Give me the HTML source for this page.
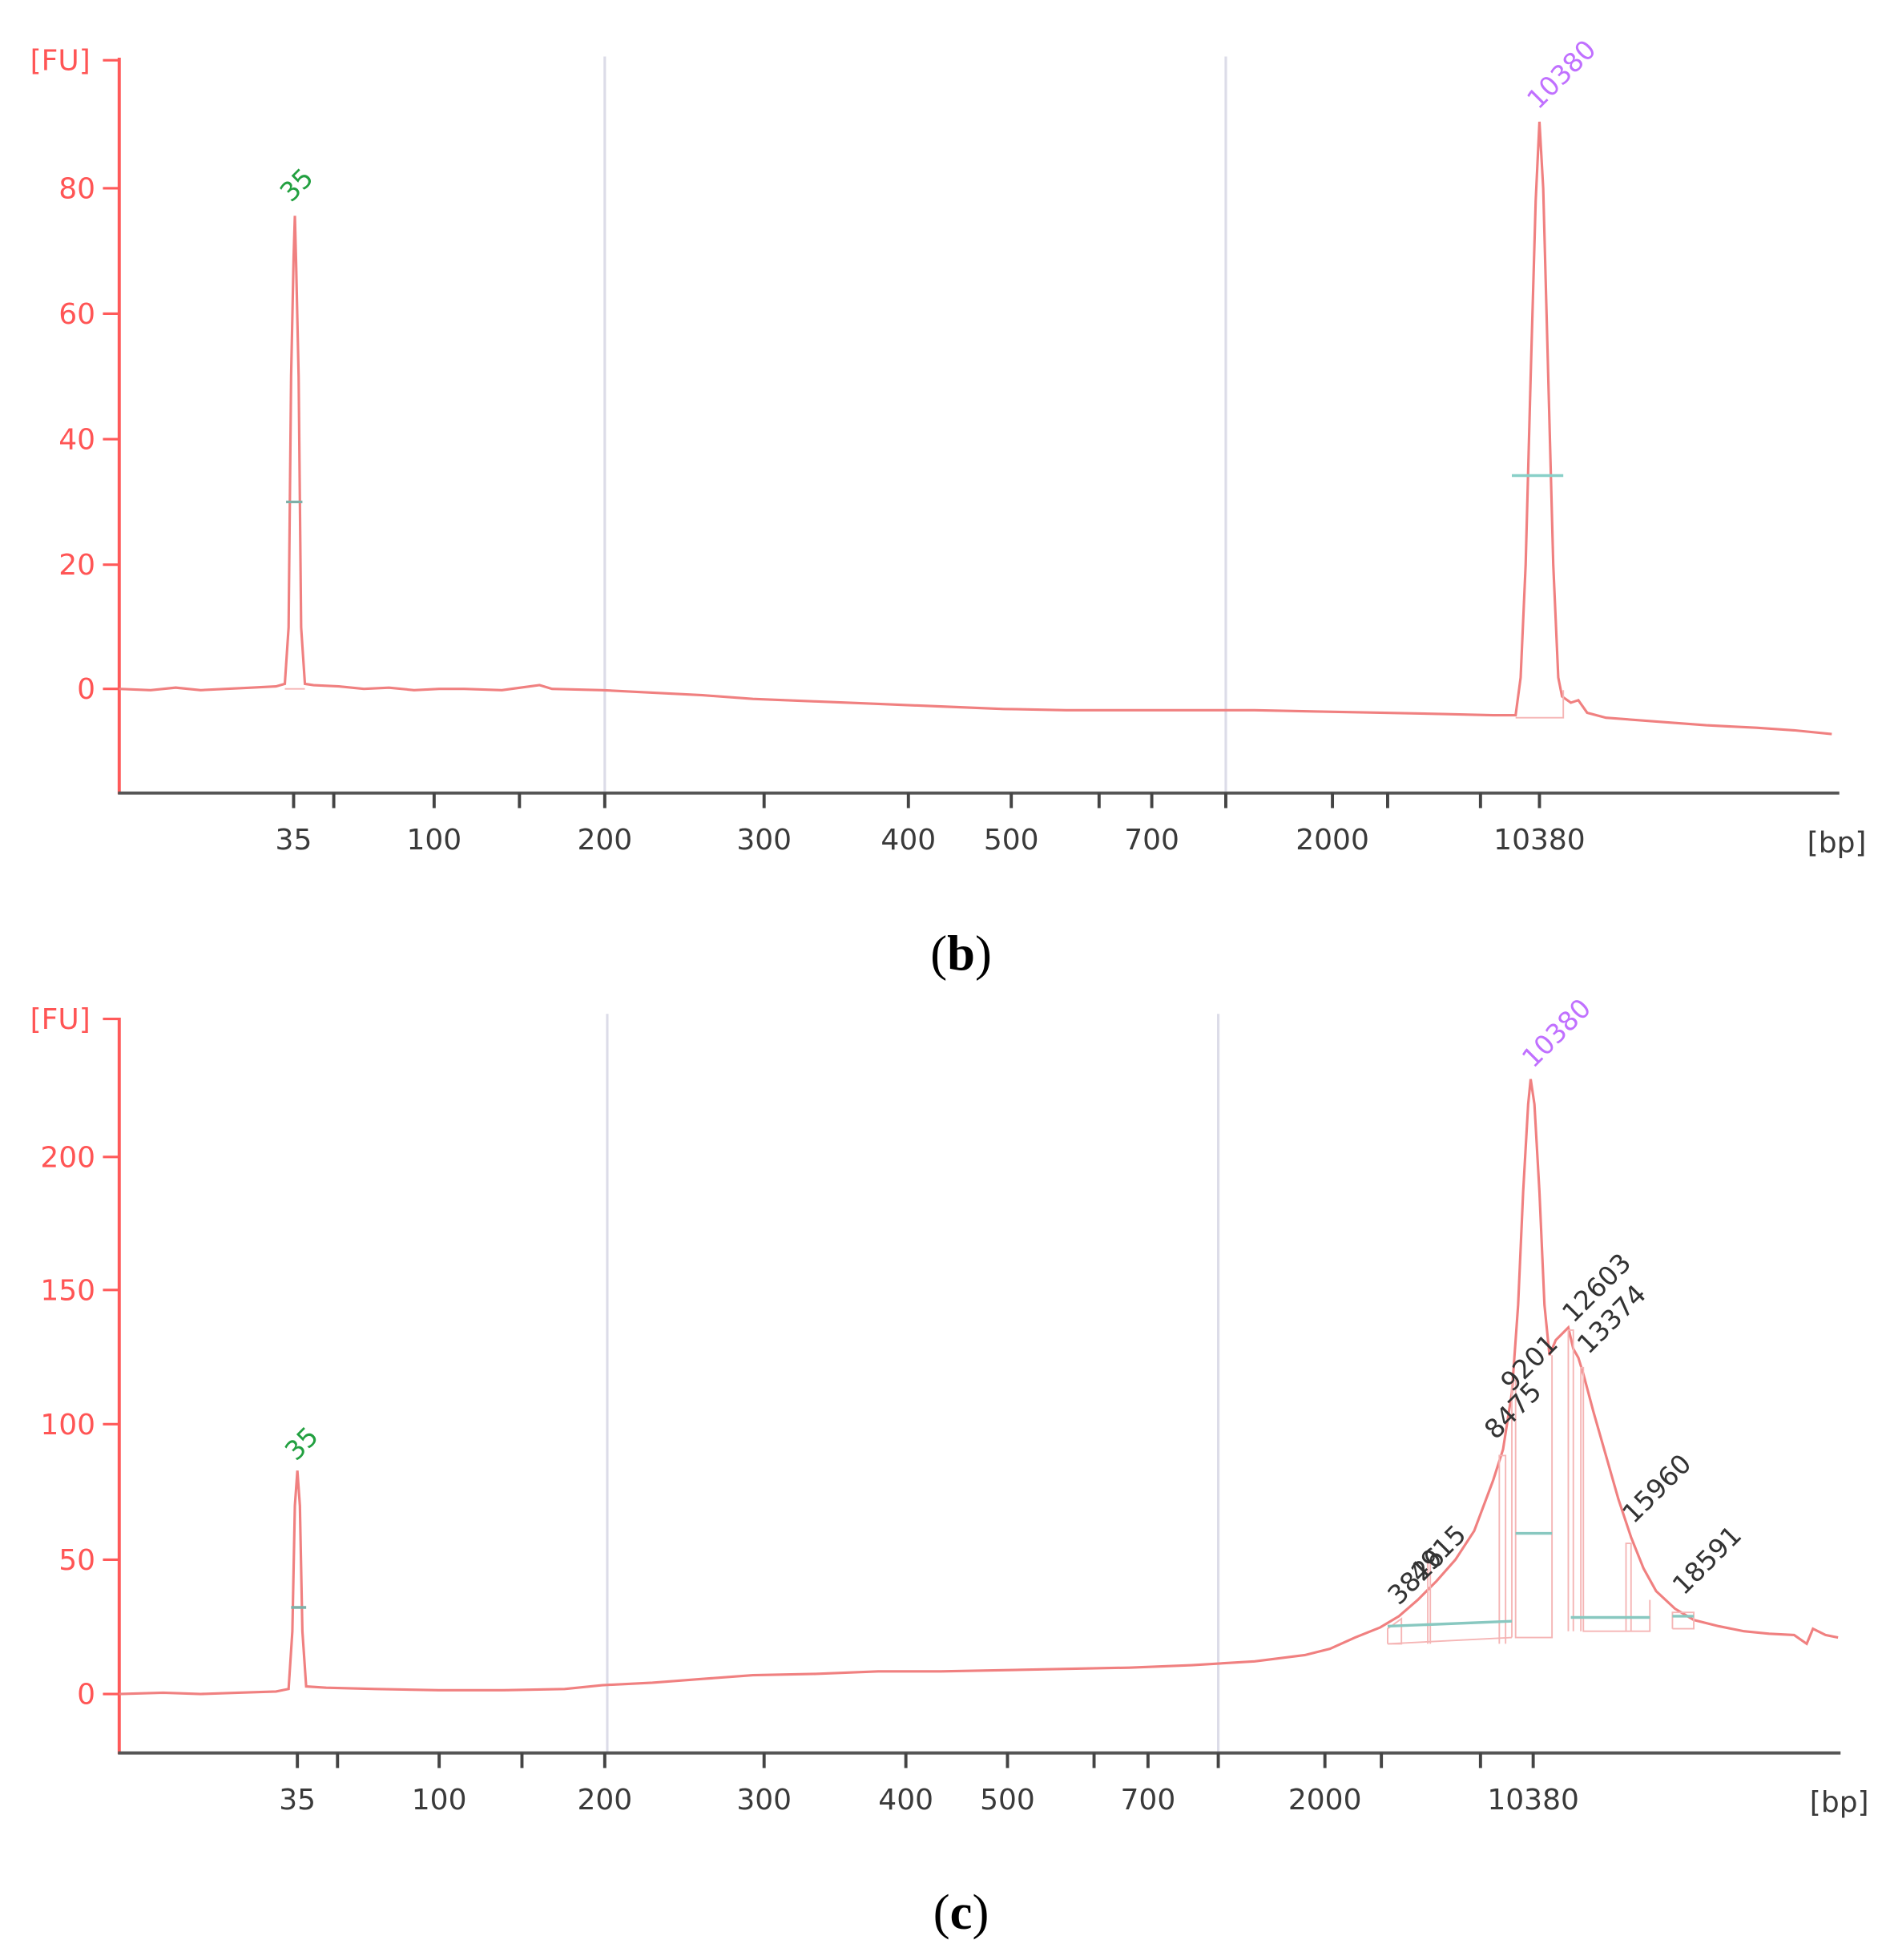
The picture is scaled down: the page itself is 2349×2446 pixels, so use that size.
<!DOCTYPE html>
<html><head><meta charset="utf-8"><style>
html,body{margin:0;padding:0;background:#fff;}
svg{display:block;}
.t{font-family:"DejaVu Sans","Liberation Sans",sans-serif;font-size:23px;fill:#ff5555;}
.x{font-family:"DejaVu Sans","Liberation Sans",sans-serif;font-size:23px;fill:#3a3a3a;}
.a{font-family:"DejaVu Sans","Liberation Sans",sans-serif;font-size:21px;fill:#333;}
.cap{font-family:"Liberation Serif",serif;font-size:40px;fill:#000;}
</style></head><body>
<svg width="2349" height="2446" viewBox="0 0 1500 1562" xmlns="http://www.w3.org/2000/svg">
<!-- Panel b -->
<line x1="482" y1="45" x2="482" y2="632" stroke="#dcdce8" stroke-width="2"/>
<line x1="977" y1="45" x2="977" y2="632" stroke="#dcdce8" stroke-width="2"/>
<line x1="95" y1="46" x2="95" y2="633" stroke="#ff5a5a" stroke-width="2.5"/>
<line x1="94" y1="632" x2="1466" y2="632" stroke="#555" stroke-width="2.5"/>
<g stroke="#ff5a5a" stroke-width="2">
<line x1="82" y1="48" x2="95" y2="48"/><line x1="82" y1="150" x2="95" y2="150"/><line x1="82" y1="250" x2="95" y2="250"/><line x1="82" y1="350" x2="95" y2="350"/><line x1="82" y1="450" x2="95" y2="450"/><line x1="82" y1="549" x2="95" y2="549"/>
</g>
<text class="t" x="24" y="56">[FU]</text>
<g class="t" text-anchor="end"><text x="76" y="158">80</text><text x="76" y="258">60</text><text x="76" y="358">40</text><text x="76" y="458">20</text><text x="76" y="557">0</text></g>
<g stroke="#444" stroke-width="2.5">
<line x1="234" y1="632" x2="234" y2="644"/><line x1="266" y1="632" x2="266" y2="644"/><line x1="346" y1="632" x2="346" y2="644"/><line x1="414" y1="632" x2="414" y2="644"/><line x1="482" y1="632" x2="482" y2="644"/><line x1="609" y1="632" x2="609" y2="644"/><line x1="724" y1="632" x2="724" y2="644"/><line x1="806" y1="632" x2="806" y2="644"/><line x1="876" y1="632" x2="876" y2="644"/><line x1="918" y1="632" x2="918" y2="644"/><line x1="977" y1="632" x2="977" y2="644"/><line x1="1062" y1="632" x2="1062" y2="644"/><line x1="1106" y1="632" x2="1106" y2="644"/><line x1="1180" y1="632" x2="1180" y2="644"/><line x1="1227" y1="632" x2="1227" y2="644"/>
</g>
<g class="x" text-anchor="middle"><text x="234" y="677">35</text><text x="346" y="677">100</text><text x="482" y="677">200</text><text x="609" y="677">300</text><text x="724" y="677">400</text><text x="806" y="677">500</text><text x="918" y="677">700</text><text x="1062" y="677">2000</text><text x="1227" y="677">10380</text><text x="1464" y="679">[bp]</text></g>
<polyline fill="none" stroke="#f08080" stroke-width="2" points="95,549 120,550 140,548 160,550 180,549 200,548 220,547 227,545 230,500 232,300 234,205 235,172 236,210 238,300 240,500 243,545 250,546 270,547 290,549 310,548 330,550 350,549 370,549 400,550 430,546 440,549 480,550 520,552 560,554 600,557 650,559 700,561 750,563 800,565 850,566 900,566 950,566 1000,566 1050,567 1100,568 1150,569 1190,570 1208,570 1212,540 1216,450 1220,300 1224,160 1227,97 1230,150 1234,300 1238,450 1242,540 1245,555 1252,560 1258,558 1265,568 1280,572 1320,575 1360,578 1400,580 1430,582 1460,585"/>
<polyline fill="none" stroke="#f5b5b5" stroke-width="1.2" points="227,549 243,549"/>
<polyline fill="none" stroke="#f5b5b5" stroke-width="1.2" points="1208,572 1246,572 1246,550"/>
<line x1="228" y1="400" x2="241" y2="400" stroke="#7fb0a8" stroke-width="2"/>
<line x1="1205" y1="379" x2="1246" y2="379" stroke="#88d0c8" stroke-width="2.2"/>
<text x="232" y="162" transform="rotate(-45 232 162)" style="font-family:'DejaVu Sans',sans-serif;font-size:21px;fill:#22a040">35</text>
<text x="1226" y="88" transform="rotate(-45 1226 88)" style="font-family:'DejaVu Sans',sans-serif;font-size:21px;fill:#c070ff">10380</text>
<text class="cap" x="766" y="773" text-anchor="middle">(<tspan font-weight="bold">b</tspan>)</text>

<!-- Panel c -->
<line x1="484" y1="808" x2="484" y2="1397" stroke="#dcdce8" stroke-width="2"/>
<line x1="971" y1="808" x2="971" y2="1397" stroke="#dcdce8" stroke-width="2"/>
<line x1="95" y1="811" x2="95" y2="1398" stroke="#ff5a5a" stroke-width="2.5"/>
<line x1="94" y1="1397" x2="1467" y2="1397" stroke="#555" stroke-width="2.5"/>
<g stroke="#ff5a5a" stroke-width="2">
<line x1="82" y1="812" x2="95" y2="812"/><line x1="82" y1="922" x2="95" y2="922"/><line x1="82" y1="1028" x2="95" y2="1028"/><line x1="82" y1="1135" x2="95" y2="1135"/><line x1="82" y1="1243" x2="95" y2="1243"/><line x1="82" y1="1350" x2="95" y2="1350"/>
</g>
<text class="t" x="24" y="820">[FU]</text>
<g class="t" text-anchor="end"><text x="76" y="930">200</text><text x="76" y="1036">150</text><text x="76" y="1143">100</text><text x="76" y="1251">50</text><text x="76" y="1358">0</text></g>
<g stroke="#444" stroke-width="2.5">
<line x1="237" y1="1397" x2="237" y2="1409"/><line x1="269" y1="1397" x2="269" y2="1409"/><line x1="350" y1="1397" x2="350" y2="1409"/><line x1="416" y1="1397" x2="416" y2="1409"/><line x1="482" y1="1397" x2="482" y2="1409"/><line x1="609" y1="1397" x2="609" y2="1409"/><line x1="722" y1="1397" x2="722" y2="1409"/><line x1="803" y1="1397" x2="803" y2="1409"/><line x1="872" y1="1397" x2="872" y2="1409"/><line x1="915" y1="1397" x2="915" y2="1409"/><line x1="971" y1="1397" x2="971" y2="1409"/><line x1="1056" y1="1397" x2="1056" y2="1409"/><line x1="1101" y1="1397" x2="1101" y2="1409"/><line x1="1180" y1="1397" x2="1180" y2="1409"/><line x1="1222" y1="1397" x2="1222" y2="1409"/>
</g>
<g class="x" text-anchor="middle"><text x="237" y="1442">35</text><text x="350" y="1442">100</text><text x="482" y="1442">200</text><text x="609" y="1442">300</text><text x="722" y="1442">400</text><text x="803" y="1442">500</text><text x="915" y="1442">700</text><text x="1056" y="1442">2000</text><text x="1222" y="1442">10380</text><text x="1466" y="1444">[bp]</text></g>
<polyline fill="none" stroke="#f08080" stroke-width="2" points="95,1350 130,1349 160,1350 190,1349 220,1348 230,1346 233,1300 235,1200 237,1172 239,1200 241,1300 244,1344 260,1345 300,1346 350,1347 400,1347 450,1346 480,1343 520,1341 560,1338 600,1335 650,1334 700,1332 750,1332 800,1331 850,1330 900,1329 950,1327 1000,1324 1040,1319 1060,1314 1080,1305 1100,1297 1115,1288 1130,1275 1145,1260 1160,1243 1175,1220 1190,1180 1198,1155 1205,1110 1210,1040 1214,950 1218,880 1220,860 1223,880 1227,950 1231,1040 1235,1080 1240,1068 1246,1062 1250,1058 1254,1075 1258,1082 1262,1095 1270,1125 1280,1160 1290,1195 1300,1225 1310,1250 1320,1268 1335,1282 1350,1291 1370,1296 1390,1300 1410,1302 1430,1303 1440,1310 1445,1298 1455,1303 1465,1305"/>
<g fill="none" stroke="#f5b5b5" stroke-width="1.2">
<polyline points="1106,1310 1106,1298 1117,1290 1117,1310 1106,1310"/>
<polyline points="1138,1310 1138,1245 1140,1245 1140,1310"/>
<polyline points="1195,1310 1195,1160 1200,1160 1200,1310"/>
<polyline points="1205,1305 1205,1100 1208,1100 1208,1305 1237,1305 1237,1080"/>
<polyline points="1250,1300 1250,1060 1254,1060 1254,1300"/>
<polyline points="1260,1300 1260,1090 1262,1090 1262,1300 1315,1300 1315,1275"/>
<polyline points="1296,1300 1296,1230 1300,1230 1300,1300"/>
<polyline points="1106,1310 1205,1305"/>
<polyline points="1333,1298 1350,1298 1350,1285 1333,1285 1333,1298"/>
</g>
<g stroke="#88c8c0" stroke-width="2.2">
<line x1="1106" y1="1296" x2="1205" y2="1292"/>
<line x1="1208" y1="1222" x2="1237" y2="1222"/>
<line x1="1252" y1="1289" x2="1315" y2="1289"/>
<line x1="1333" y1="1288" x2="1350" y2="1288"/>
<line x1="232" y1="1281" x2="244" y2="1281" stroke="#7fb0a8"/>
</g>
<text x="236" y="1165" transform="rotate(-45 236 1165)" style="font-family:'DejaVu Sans',sans-serif;font-size:21px;fill:#22a040">35</text>
<text x="1222" y="852" transform="rotate(-45 1222 852)" style="font-family:'DejaVu Sans',sans-serif;font-size:21px;fill:#c070ff">10380</text>
<g class="a">
<text x="1115" y="1280" transform="rotate(-45 1115 1280)">3826</text>
<text x="1132" y="1262" transform="rotate(-45 1132 1262)">4915</text>
<text x="1192" y="1148" transform="rotate(-45 1192 1148)">8475</text>
<text x="1205" y="1110" transform="rotate(-45 1205 1110)">9201</text>
<text x="1254" y="1055" transform="rotate(-45 1254 1055)">12603</text>
<text x="1266" y="1080" transform="rotate(-45 1266 1080)">13374</text>
<text x="1302" y="1215" transform="rotate(-45 1302 1215)">15960</text>
<text x="1342" y="1272" transform="rotate(-45 1342 1272)">18591</text>
</g>
<text class="cap" x="766" y="1537" text-anchor="middle">(<tspan font-weight="bold">c</tspan>)</text>
</svg>
</body></html>
